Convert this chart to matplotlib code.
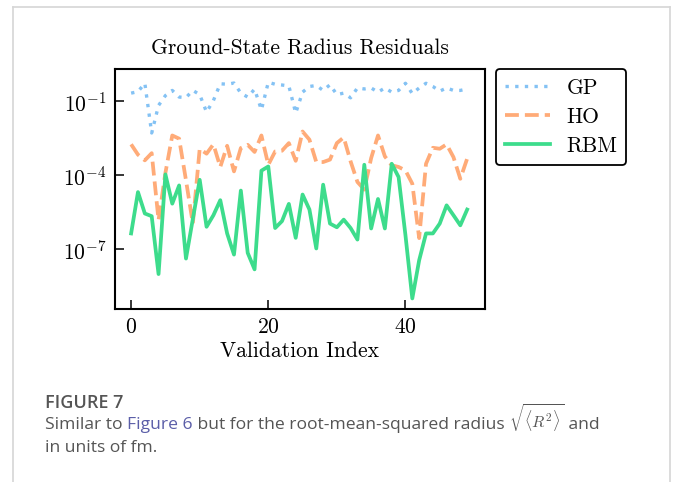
import numpy as np
import matplotlib
matplotlib.use("Agg")
import matplotlib.pyplot as plt
from matplotlib.lines import Line2D

plt.rcParams.update({
    "font.family": "serif",
    "font.serif": ["cmr10"],
    "mathtext.fontset": "cm",
    "axes.formatter.use_mathtext": True,
    "axes.unicode_minus": False,
})

index = list(range(50))
gp_log = [-0.66, -0.60, -0.26, -2.28, -1.16, -0.76, -0.55, -0.82, -0.84, -0.55,
          -0.72, -1.43, -0.96, -0.28, -0.30, -0.25, -0.66, -0.82, -0.50, -1.34,
          -0.22, -0.30, -0.33, -0.37, -1.47, -0.62, -0.39, -0.35, -0.55, -0.32,
          -0.72, -0.66, -0.85, -0.45, -0.49, -0.45, -0.62, -0.45, -0.62, -0.55,
          -0.26, -0.68, -0.45, -0.26, -0.39, -0.58, -0.45, -0.55, -0.55, -0.49]
ho_log = [-2.74, -3.16, -3.39, -3.10, -5.82, -3.90, -2.38, -2.51, -4.20, -5.96,
          -2.92, -3.12, -2.74, -3.66, -2.80, -3.84, -2.89, -2.76, -3.05, -2.38,
          -3.57, -3.03, -3.00, -2.69, -3.41, -2.22, -2.55, -3.46, -3.46, -3.36,
          -2.69, -2.46, -3.43, -4.27, -4.58, -3.30, -2.38, -3.23, -3.59, -3.66,
          -3.80, -4.34, -6.55, -3.53, -2.88, -2.92, -2.74, -3.26, -4.14, -3.32]
rbm_log = [-6.36, -4.68, -5.55, -5.66, -8.01, -3.96, -5.15, -4.41, -7.38, -5.77,
           -4.18, -6.09, -5.62, -5.01, -6.36, -7.22, -4.62, -7.15, -7.82, -3.81,
           -3.64, -6.14, -5.86, -5.16, -6.54, -4.78, -5.39, -6.97, -4.38, -5.96,
           -6.11, -5.80, -6.14, -6.61, -3.57, -6.16, -4.96, -6.16, -3.53, -4.07,
           -6.43, -9.00, -7.45, -6.36, -6.36, -5.96, -5.22, -5.62, -6.03, -5.39]
labels = ["GP", "HO", "RBM"]
colors = ["#84c2f4", "#ffab78", "#3ddc8c"]
title = "Ground-State Radius Residuals"
xlabel = "Validation Index"

W, H = 677, 482
fig = plt.figure(figsize=(W / 100, H / 100), dpi=100)

frame_col = "#d6d6d6"
fig.add_artist(Line2D([13 / W, 13 / W], [0, 1 - 7 / H], color=frame_col, lw=1.2, transform=fig.transFigure))
fig.add_artist(Line2D([13 / W, 670 / W], [1 - 7 / H, 1 - 7 / H], color=frame_col, lw=1.2, transform=fig.transFigure))
fig.add_artist(Line2D([670 / W, 670 / W], [0, 1 - 7 / H], color=frame_col, lw=1.2, transform=fig.transFigure))

left, right, top, bottom = 115, 485, 69, 309
ax = fig.add_axes([left / W, 1 - bottom / H, (right - left) / W, (bottom - top) / H])

line_kw = [
    dict(ls=(0, (1, 1.9)), lw=2.4),
    dict(ls="--", lw=2.7),
    dict(ls="-", lw=2.7),
]
series = [gp_log, ho_log, rbm_log]
for lab, col, kw, s in zip(labels, colors, line_kw, series):
    ax.plot(index, 10.0 ** np.array(s), color=col, label=lab, **kw)

ax.set_yscale("log")
ax.set_ylim(10 ** -9.43, 10 ** 0.32)
ax.set_xlim(-2.35, 51.6)
ax.set_yticks([1e-1, 1e-4, 1e-7])
ax.yaxis.set_minor_locator(matplotlib.ticker.NullLocator())
ax.set_xticks([0, 20, 40])
ax.tick_params(direction="in", length=6.5, width=1.1, labelsize=15.5, pad=6)
for sp in ax.spines.values():
    sp.set_linewidth(1.5)
ax.set_title(title, fontsize=15.5, pad=11)
ax.set_xlabel(xlabel, fontsize=15.5, labelpad=3)

leg = ax.legend(loc="upper left", bbox_to_anchor=(496 / W, 1 - 69 / H), bbox_transform=fig.transFigure,
                borderaxespad=0, fontsize=15.5, handlelength=2.1, handletextpad=0.75,
                labelspacing=0.45, borderpad=0.42, frameon=True, fancybox=True, framealpha=1)
leg.get_frame().set_edgecolor("black")
leg.get_frame().set_linewidth(1.3)

# caption
cap_font = "Open Sans"
grey = "#555555"
link = "#5b5ea8"
fig.text(45 / W, 1 - 408 / H, "FIGURE 7", fontsize=13, family=cap_font, weight="semibold", color=grey, va="baseline")

renderer = fig.canvas.get_renderer()
pieces = [("Similar to ", grey), ("Figure 6", link),
          (" but for the root-mean-squared radius ", grey),
          (r"$\sqrt{\langle R^2\rangle}$", grey), (" and", grey)]
xcur = 45.0
for txt, col in pieces:
    fs = 11.5 if txt.startswith("$") else 12.6
    t = fig.text(xcur / W, 1 - 429 / H, txt, fontsize=fs, family=cap_font, color=col, va="baseline")
    bb = t.get_window_extent(renderer)
    xcur += bb.width
fig.text(45 / W, 1 - 452 / H, "in units of fm.", fontsize=12.6, family=cap_font, color=grey, va="baseline")

fig.savefig("out.png", dpi=100)
